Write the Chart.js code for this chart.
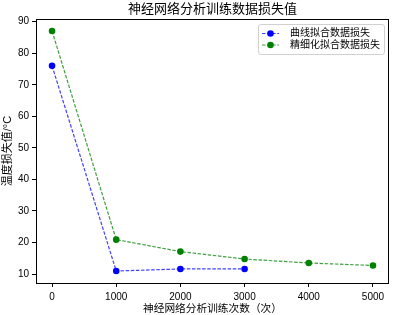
<!DOCTYPE html>
<html>
<head>
<meta charset="utf-8">
<script src="https://cdn.jsdelivr.net/npm/chart.js@4.4.1/dist/chart.umd.min.js"></script>
<style>
  body { margin: 0; background: #fff; }
  #wrap { width: 393px; height: 315px; }
</style>
</head>
<body>
<div id="wrap"><canvas id="chart" width="393" height="315"></canvas></div>
<script>
// Données
const titre = '神经网络分析训练数据损失值';
const titreX = '神经网络分析训练次数（次）';
const titreY = '温度损失值/°C';

const xCourbe = [0, 1000, 2000, 3000];
const yCourbe = [76.0, 10.95, 11.6, 11.6];
const xFin = [0, 1000, 2000, 3000, 4000, 5000];
const yFin = [87.05, 20.9, 17.1, 14.75, 13.5, 12.7];

const ticksX = [0, 1000, 2000, 3000, 4000, 5000];
const ticksY = [10, 20, 30, 40, 50, 60, 70, 80, 90];

const policeCJK = '"Liberation Sans", "Noto Sans CJK SC", sans-serif';

function points(xs, ys) {
    return xs.map((x, i) => ({ x: x, y: ys[i] }));
}

// Titre, cadre et légende dessinés à la main (style matplotlib)
const habillage = {
    id: 'habillage',
    afterDraw(chart) {
        const ctx = chart.ctx;
        const a = chart.chartArea;
        ctx.save();

        // cadre
        ctx.strokeStyle = '#000';
        ctx.lineWidth = 1;
        ctx.strokeRect(Math.round(a.left) + 0.5, Math.round(a.top) + 0.5,
            Math.round(a.right - a.left) - 1, Math.round(a.bottom - a.top));

        // titre
        ctx.fillStyle = '#000';
        ctx.font = '13px ' + policeCJK;
        ctx.textAlign = 'center';
        ctx.textBaseline = 'middle';
        ctx.fillText(titre, (a.left + a.right) / 2, 9.5);

        // légende
        const sets = chart.data.datasets;
        ctx.font = '10px ' + policeCJK;
        let largeur = 0;
        sets.forEach(d => { largeur = Math.max(largeur, ctx.measureText(d.label).width); });
        const w = largeur + 36;
        const h = 30;
        const x0 = a.right - 5 - w;
        const y0 = a.top + 5;
        ctx.beginPath();
        ctx.roundRect(x0 + 0.5, y0 + 0.5, w, h, 2.5);
        ctx.fillStyle = 'rgba(255,255,255,0.8)';
        ctx.fill();
        ctx.strokeStyle = '#d0d0d0';
        ctx.lineWidth = 1;
        ctx.stroke();

        sets.forEach((d, i) => {
            const yy = y0 + 9.5 + i * 11.5;
            ctx.beginPath();
            ctx.setLineDash([3.5, 1.6]);
            ctx.strokeStyle = d.borderColor;
            ctx.lineWidth = 1.2;
            ctx.moveTo(x0 + 4, yy);
            ctx.lineTo(x0 + 21, yy);
            ctx.stroke();
            ctx.setLineDash([]);
            ctx.beginPath();
            ctx.arc(x0 + 12.5, yy, 3.3, 0, Math.PI * 2);
            ctx.fillStyle = d.pointBackgroundColor;
            ctx.fill();
            ctx.fillStyle = '#000';
            ctx.textAlign = 'left';
            ctx.textBaseline = 'middle';
            ctx.fillText(d.label, x0 + 32, yy);
        });
        ctx.restore();
    }
};

new Chart(document.getElementById('chart').getContext('2d'), {
    type: 'line',
    data: {
        datasets: [{
            label: '曲线拟合数据损失',
            data: points(xCourbe, yCourbe),
            borderColor: 'rgba(0, 0, 255, 0.75)',
            pointBackgroundColor: '#0000ff',
            pointBorderColor: '#0000ff',
            borderWidth: 1.2,
            borderDash: [3.5, 1.6],
            pointRadius: 3.3,
            pointBorderWidth: 0,
            tension: 0
        }, {
            label: '精细化拟合数据损失',
            data: points(xFin, yFin),
            borderColor: 'rgba(0, 128, 0, 0.75)',
            pointBackgroundColor: '#008000',
            pointBorderColor: '#008000',
            borderWidth: 1.2,
            borderDash: [3.5, 1.6],
            pointRadius: 3.3,
            pointBorderWidth: 0,
            tension: 0
        }]
    },
    options: {
        responsive: false,
        animation: false,
        layout: { padding: { top: 19, right: 2, left: 0, bottom: 0 } },
        plugins: {
            legend: { display: false },
            title: { display: false },
            tooltip: { enabled: false }
        },
        scales: {
            x: {
                type: 'linear',
                min: -250,
                max: 5250,
                afterBuildTicks: s => { s.ticks = ticksX.map(v => ({ value: v })); },
                afterFit: s => { s.height = 32; },
                border: { display: false },
                grid: { drawOnChartArea: false, drawTicks: true, tickLength: 4, color: '#000' },
                ticks: { color: '#000', padding: 4, maxRotation: 0, callback: v => String(v), font: { size: 10, family: policeCJK } },
                title: { display: true, text: titreX, color: '#000', padding: { top: 0, bottom: 0 }, font: { size: 10.7, family: policeCJK } }
            },
            y: {
                min: 7.15,
                max: 90.86,
                afterBuildTicks: s => { s.ticks = ticksY.map(v => ({ value: v })); },
                afterFit: s => { s.width = 36; },
                border: { display: false },
                grid: { drawOnChartArea: false, drawTicks: true, tickLength: 4, color: '#000' },
                ticks: { color: '#000', padding: 3, callback: v => String(v), font: { size: 10, family: policeCJK } },
                title: { display: true, text: titreY, color: '#000', padding: { top: 1, bottom: 0 }, font: { size: 11, family: policeCJK } }
            }
        }
    },
    plugins: [habillage]
});
</script>
</body>
</html>
